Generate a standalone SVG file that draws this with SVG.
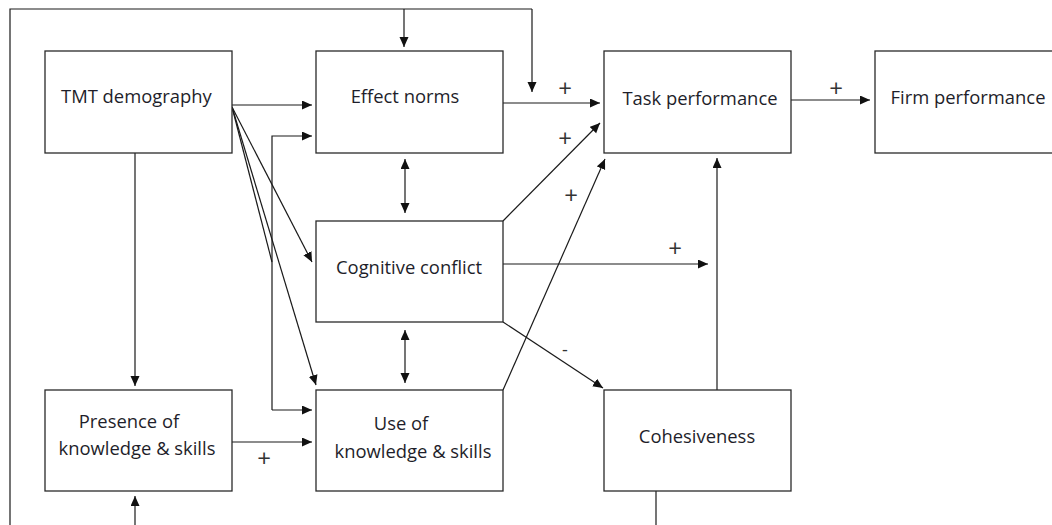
<svg xmlns="http://www.w3.org/2000/svg" width="1052" height="525" viewBox="0 0 1052 525">
<style>
.box{fill:#fff;stroke:#2a2a2a;stroke-width:1.3}
.c{fill:none;stroke:#1a1a1a;stroke-width:1.2}
.a{marker-end:url(#ah)}
.d{marker-start:url(#ah);marker-end:url(#ah)}
text{font-family:"Open Sans","Noto Sans","Liberation Sans",sans-serif;font-size:18.4px;fill:#1e1e2a}
.s{font-size:24px;fill:#333}
</style>
<defs>
<marker id="ah" markerUnits="userSpaceOnUse" markerWidth="11" markerHeight="10" refX="10" refY="4.5" orient="auto-start-reverse"><path d="M0,0 L10,4.5 L0,9 z" fill="#111"/></marker>
</defs>
<rect width="1052" height="525" fill="#fff"/>
<g id="connectors">
<path class="c" d="M10,525 V9 H532"/>
<path class="c a" d="M404,9 V47"/>
<path class="c a" d="M532,9 V92"/>
<path class="c a" d="M232,105 H312"/>
<path class="c a" d="M272,410 V136 H312"/>
<path class="c a" d="M272,410 H312"/>
<path class="c a" d="M232,107 L312,262"/>
<path class="c" d="M232,107 L272,262"/>
<path class="c a" d="M232,107 L316,385"/>
<path class="c a" d="M135,153 V386"/>
<path class="c a" d="M135,525 V496"/>
<path class="c a" d="M232,442 H312"/>
<path class="c d" d="M405,159 V213"/>
<path class="c d" d="M405,330 V383"/>
<path class="c a" d="M503,103 H600"/>
<path class="c a" d="M503,221 L600,123"/>
<path class="c a" d="M503,390 L605,159"/>
<path class="c a" d="M503,264 H708"/>
<path class="c a" d="M503,322 L603,388"/>
<path class="c a" d="M717,390 V158"/>
<path class="c a" d="M791,100 H870"/>
<path class="c" d="M656,491 V525"/>
<text class="s" x="565" y="97" text-anchor="middle">+</text>
<text class="s" x="565" y="147" text-anchor="middle">+</text>
<text class="s" x="571" y="204" text-anchor="middle">+</text>
<text class="s" x="675" y="257" text-anchor="middle">+</text>
<text class="s" x="565" y="356" text-anchor="middle" style="font-size:18px">-</text>
<text class="s" x="836" y="97" text-anchor="middle">+</text>
<text class="s" x="264" y="467" text-anchor="middle">+</text>
</g>
<g id="tmt"><rect class="box" x="45" y="51" width="187" height="102"/><text x="61" y="103">TMT demography</text></g>
<g id="effect"><rect class="box" x="316" y="51" width="187" height="102"/><text x="405" y="103" text-anchor="middle">Effect norms</text></g>
<g id="task"><rect class="box" x="604" y="51" width="187" height="102"/><text x="700" y="105" text-anchor="middle">Task performance</text></g>
<g id="firm"><rect class="box" x="875" y="51" width="190" height="102"/><text x="968" y="104" text-anchor="middle">Firm performance</text></g>
<g id="cognitive"><rect class="box" x="316" y="221" width="187" height="101"/><text x="409" y="274" text-anchor="middle">Cognitive conflict</text></g>
<g id="presence"><rect class="box" x="45" y="390" width="187" height="101"/><text x="129" y="428" text-anchor="middle">Presence of</text><text x="137" y="455" text-anchor="middle">knowledge &amp; skills</text></g>
<g id="use"><rect class="box" x="316" y="390" width="187" height="101"/><text x="401" y="430" text-anchor="middle">Use of</text><text x="413" y="458" text-anchor="middle">knowledge &amp; skills</text></g>
<g id="cohesiveness"><rect class="box" x="604" y="390" width="187" height="101"/><text x="697" y="443" text-anchor="middle">Cohesiveness</text></g>
</svg>
